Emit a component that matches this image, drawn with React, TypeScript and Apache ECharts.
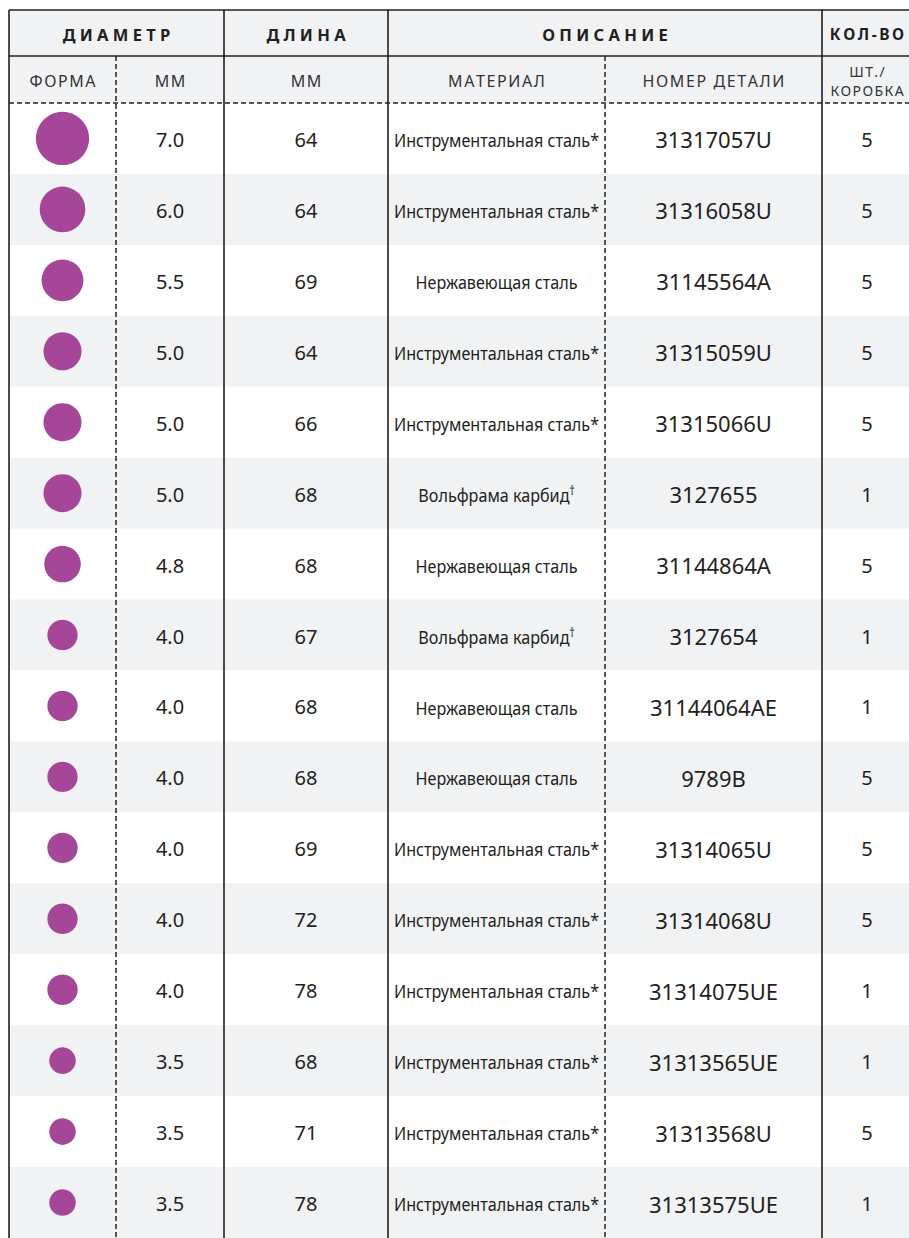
import React, { useEffect, useRef } from "react";
import * as echarts from "echarts";

const W = 909;
const H = 1238;

// ---- data ----
const diameters = [7.0, 6.0, 5.5, 5.0, 5.0, 5.0, 4.8, 4.0, 4.0, 4.0, 4.0, 4.0, 4.0, 3.5, 3.5, 3.5];
const lengths = [64, 64, 69, 64, 66, 68, 68, 67, 68, 68, 69, 72, 78, 68, 71, 78];
const materials = [
  "Инструментальная сталь*",
  "Инструментальная сталь*",
  "Нержавеющая сталь",
  "Инструментальная сталь*",
  "Инструментальная сталь*",
  "Вольфрама карбид†",
  "Нержавеющая сталь",
  "Вольфрама карбид†",
  "Нержавеющая сталь",
  "Нержавеющая сталь",
  "Инструментальная сталь*",
  "Инструментальная сталь*",
  "Инструментальная сталь*",
  "Инструментальная сталь*",
  "Инструментальная сталь*",
  "Инструментальная сталь*",
];
const partNumbers = [
  "31317057U", "31316058U", "31145564A", "31315059U", "31315066U", "3127655",
  "31144864A", "3127654", "31144064AE", "9789B", "31314065U", "31314068U",
  "31314075UE", "31313565UE", "31313568U", "31313575UE",
];
const quantities = [5, 5, 5, 5, 5, 1, 5, 1, 1, 5, 5, 5, 1, 1, 5, 1];

const groupHeaders = ["ДИАМЕТР", "ДЛИНА", "ОПИСАНИЕ", "КОЛ-ВО"];
const subHeaders = ["ФОРМА", "ММ", "ММ", "МАТЕРИАЛ", "НОМЕР ДЕТАЛИ", "ШТ./\nКОРОБКА"];

// ---- layout ----
const LEFT = 9;
const TOP = 10;
const H1 = 56;
const H2 = 103;
const ROW_H = 71.35;
const COLX = [9, 116, 224, 388, 605, 822, 912];
const colCenter = (a: number, b: number) => (COLX[a] + COLX[b]) / 2;
const groupSpans = [[0, 2], [2, 3], [3, 5], [5, 6]];
const groupSep = [" ", " ", " ", "\u2009"];
const INK = "#231f20";
const SHADE = "#f1f2f4";
const PURPLE = "#a54698";
const MAIN_FONT = "'Noto Sans', 'Open Sans', sans-serif";
const MAT_SCALE = 0.85;

const spaced = (s: string, sep: string) =>
  s.split("\n").map((line) => line.split("").join(sep)).join("\n");

export default function App() {
  const ref = useRef<HTMLDivElement>(null);

  useEffect(() => {
    if (!ref.current) return;
    const chart = echarts.init(ref.current, undefined, { renderer: "svg" });
    const bodyBottom = H - (H2 + ROW_H * diameters.length);

    const graphics: any[] = [];
    graphics.push({
      type: "rect",
      z: 1,
      shape: { x: LEFT, y: TOP, width: W - LEFT, height: H2 - TOP },
      style: { fill: SHADE },
    });
    groupHeaders.forEach((t, k) => {
      const [a, b] = groupSpans[k];
      graphics.push({
        type: "text",
        z: 110,
        x: k === 3 ? 867 : colCenter(a, b),
        y: (TOP + H1) / 2 + 1,
        style: {
          text: spaced(t, groupSep[k]),
          fontSize: k === 3 ? 15.5 : 16.5,
          fontWeight: "bold",
          fontFamily: MAIN_FONT,
          fill: INK,
          align: "center",
          verticalAlign: "middle",
        },
      });
    });
    subHeaders.forEach((t, k) => {
      const twoLine = t.includes("\n");
      graphics.push({
        type: "text",
        z: 110,
        x: colCenter(k, k + 1),
        y: (H1 + H2) / 2 + 1,
        style: {
          text: spaced(t, "\u200A"),
          fontSize: twoLine ? 14 : 16,
          lineHeight: twoLine ? 19 : undefined,
          fontFamily: MAIN_FONT,
          fill: "#333333",
          align: "center",
          verticalAlign: "middle",
        },
      });
    });
    const solid = { stroke: INK, lineWidth: 1.6 };
    const dashed = { stroke: INK, lineWidth: 1.5, lineDash: [5, 3] };
    graphics.push({ type: "line", z: 100, shape: { x1: LEFT, y1: TOP, x2: W, y2: TOP }, style: solid });
    graphics.push({ type: "line", z: 100, shape: { x1: LEFT, y1: H1, x2: W, y2: H1 }, style: solid });
    graphics.push({ type: "line", z: 100, shape: { x1: LEFT, y1: H2, x2: W, y2: H2 }, style: dashed });
    [0, 2, 3, 5].forEach((c) =>
      graphics.push({ type: "line", z: 100, shape: { x1: COLX[c], y1: TOP, x2: COLX[c], y2: H }, style: solid })
    );
    [1, 4].forEach((c) =>
      graphics.push({ type: "line", z: 100, shape: { x1: COLX[c], y1: H1, x2: COLX[c], y2: H }, style: dashed })
    );

    const textEl = (x: number, y: number, style: any, extra: any = {}) => ({
      type: "text",
      x,
      y,
      ...extra,
      style: { fill: INK, align: "center", verticalAlign: "middle", ...style },
    });

    chart.setOption({
      animation: false,
      backgroundColor: "#ffffff",
      grid: { left: LEFT, right: 0, top: H2, bottom: bodyBottom, containLabel: false },
      xAxis: { type: "value", min: LEFT, max: W, show: false },
      yAxis: {
        type: "category",
        data: partNumbers,
        inverse: true,
        boundaryGap: true,
        axisLine: { show: false },
        axisTick: { show: false },
        axisLabel: { show: false },
        splitLine: { show: false },
        splitArea: { show: true, interval: 0, areaStyle: { color: ["#ffffff", SHADE] } },
      },
      graphic: { elements: graphics },
      series: [
        {
          type: "scatter",
          data: diameters.map((d, i) => [colCenter(0, 1), i, d]),
          symbol: "circle",
          symbolSize: (v: number[]) => v[2] * 7.6,
          itemStyle: { color: PURPLE, opacity: 1 },
          z: 5,
          silent: true,
        },
        {
          type: "custom",
          data: partNumbers.map((_, i) => [LEFT, i]),
          encode: { x: 0, y: 1 },
          z: 6,
          silent: true,
          clip: false,
          renderItem: (params: any, api: any) => {
            const i = api.value(1);
            const y = api.coord([LEFT, i])[1] + 1;
            const mat = materials[i];
            const last = mat.slice(-1);
            let matStyle: any;
            if (last === "†") {
              matStyle = {
                text: `{m|${mat.slice(0, -1)}}{s|†}`,
                rich: {
                  m: { fontSize: 19, fontFamily: MAIN_FONT, fill: INK },
                  s: { fontSize: 12, fontFamily: MAIN_FONT, fill: INK, verticalAlign: "top", padding: [0, 0, 8, 0] },
                },
              };
            } else {
              matStyle = { text: mat, fontSize: 19, fontFamily: MAIN_FONT };
            }
            return {
              type: "group",
              children: [
                textEl(colCenter(1, 2), y, { text: diameters[i].toFixed(1), fontSize: 20, fontFamily: MAIN_FONT }),
                textEl(colCenter(2, 3), y, { text: String(lengths[i]), fontSize: 20, fontFamily: MAIN_FONT }),
                textEl(colCenter(3, 4), y, matStyle, { scaleX: MAT_SCALE }),
                textEl(colCenter(4, 5), y, { text: partNumbers[i], fontSize: 22, fontFamily: MAIN_FONT }),
                textEl(colCenter(5, 6), y, { text: String(quantities[i]), fontSize: 20, fontFamily: MAIN_FONT }),
              ],
            };
          },
        },
      ],
    });

    return () => chart.dispose();
  }, []);

  return (
    <div ref={ref} style={{ position: "absolute", left: 0, top: 0, width: W, height: H }} />
  );
}
